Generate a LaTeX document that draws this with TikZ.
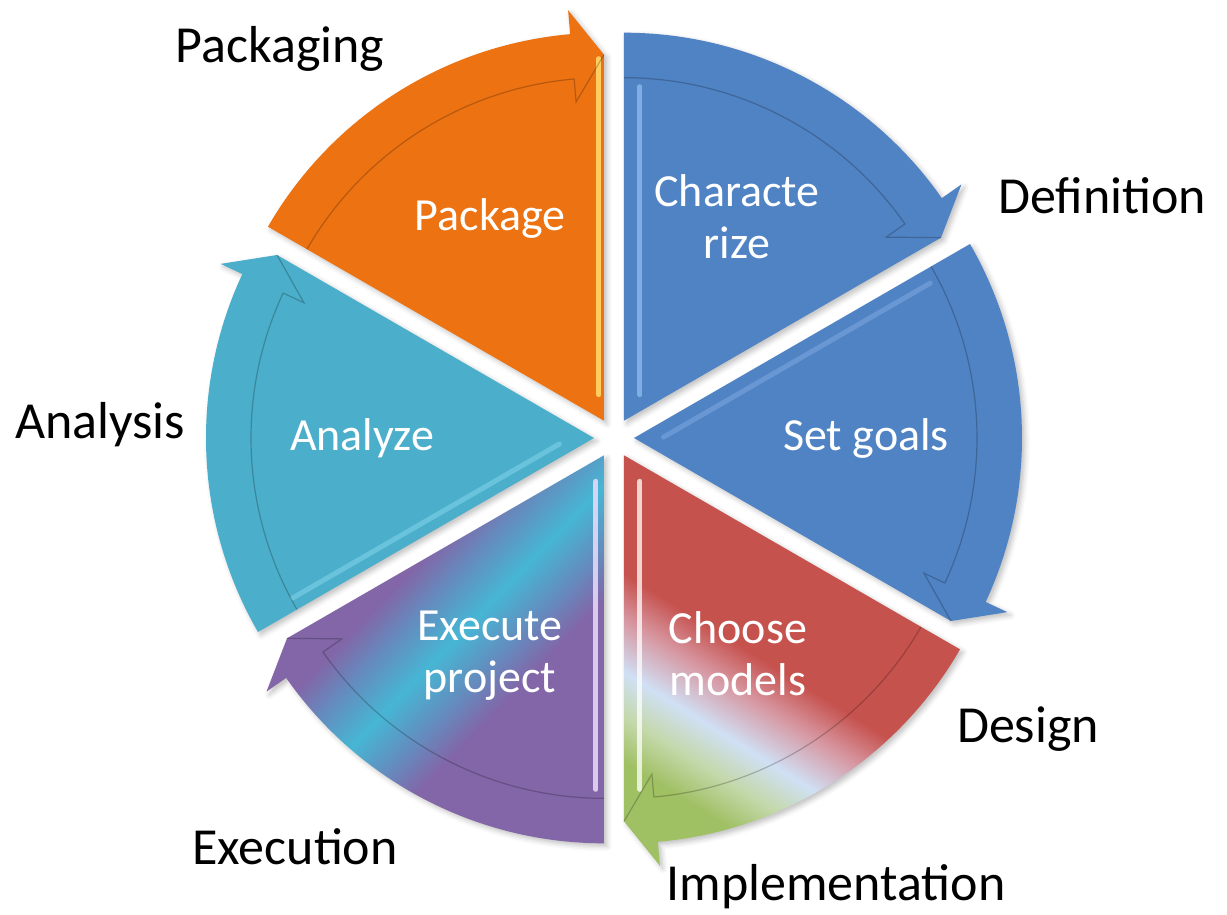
\documentclass[tikz,border=0pt]{standalone}
\usepackage{fontspec}
\setmainfont{Carlito}
\usetikzlibrary{shadows.blur,calc}

\definecolor{corange}{RGB}{236,114,18}
\definecolor{cblue}{RGB}{80,131,196}
\definecolor{ccyan}{RGB}{75,174,202}
\definecolor{cred}{RGB}{198,82,78}
\definecolor{cpink}{RGB}{215,150,160}
\definecolor{cpurple}{RGB}{130,102,168}
\definecolor{cgreen}{RGB}{160,192,100}
\definecolor{cgreenl}{RGB}{196,216,170}
\definecolor{clight}{RGB}{208,224,245}
\definecolor{cstripe}{RGB}{70,182,212}
\definecolor{cmid}{RGB}{100,140,190}

\pgfdeclarehorizontalshading{chooseshade}{100bp}{color(0bp)=(cgreen); color(27bp)=(cgreen); color(32bp)=(cgreenl); color(37bp)=(clight); color(43bp)=(cpink); color(48bp)=(cred); color(100bp)=(cred)}
\pgfdeclarehorizontalshading{execshade}{100bp}{color(0bp)=(cpurple); color(40bp)=(cpurple); color(45bp)=(cmid); color(51bp)=(cstripe); color(57bp)=(cmid); color(62bp)=(cpurple); color(100bp)=(cpurple)}

\tikzset{
  wshadow/.style={blur shadow={shadow xshift=3pt, shadow yshift=-3pt, shadow blur radius=5pt, shadow opacity=25}},
  crease/.style={line width=1.2pt, draw=black, draw opacity=0.22},
  inlabel/.style={text=white, font=\fontsize{46}{51.5}\selectfont, align=center, inner sep=0pt},
  outlabel/.style={text=black, font=\fontsize{52}{58}\selectfont, inner sep=0pt, anchor=base}
}

% #1 bisector, #2 fill options, #3 highlight edge angle, #4 highlight offset, #5 highlight colour options, #6 highlight outer radius
\newcommand{\cycwedge}[6]{%
 \begin{scope}[shift={(#1:20pt)}]
  \pgfmathsetmacro\ta{#1+30}
  \pgfmathsetmacro\tb{#1-25}
  \pgfmathsetmacro\tc{#1-30}
  \path[wshadow,#2] (0,0) -- (\ta:388pt) arc[start angle=\ta, end angle=\tb, radius=388pt] -- (\tb:412pt) -- (\tc:366pt) -- cycle;
  \draw[#5, line width=5pt, line cap=round] ($(#3:26pt)+#4$) -- ($(#3:#6)+#4$);
  \draw[crease] (\ta:343pt) arc[start angle=\ta, end angle=\tb, radius=343pt] -- (\tb:320pt) -- (\tc:366pt);
 \end{scope}}

\begin{document}
\begin{tikzpicture}[x=1pt,y=1pt]
\useasboundingbox (-614pt,-476pt) rectangle (613pt,438pt);

\cycwedge{120}{fill=corange}{90}{(180:5pt)}{draw={rgb,255:red,255;green,205;blue,95}}{362pt}
\cycwedge{60}{fill=cblue}{90}{(0:16pt)}{draw={rgb,255:red,140;green,185;blue,235}, draw opacity=0.8}{334pt}
\cycwedge{0}{fill=cblue}{30}{(-60:14pt)}{draw={rgb,255:red,115;green,160;blue,218}, draw opacity=0.7}{334pt}
\cycwedge{300}{shading=chooseshade, shading angle=58}{270}{(0:16pt)}{draw=white, draw opacity=0.75}{334pt}
\cycwedge{240}{shading=execshade, shading angle=-44}{270}{(180:8pt)}{draw={rgb,255:red,235;green,220;blue,250}, draw opacity=0.85}{334pt}
\cycwedge{180}{fill=ccyan}{210}{(150:14pt)}{draw={rgb,255:red,120;green,205;blue,228}, draw opacity=0.7}{334pt}

\node[inlabel, anchor=base] (tpack) at (-124pt,208pt) {Package};
\node[inlabel, anchor=base] (tchar) at (123pt,180pt) {Characte\\rize};
\node[inlabel, anchor=base] (tgoal) at (252pt,-12pt) {Set goals};
\node[inlabel, anchor=base] (tchoose) at (124pt,-257pt) {Choose\\models};
\node[inlabel, anchor=base] (texec) at (-124pt,-254pt) {Execute\\project};
\node[inlabel, anchor=base] (tanal) at (-252pt,-12pt) {Analyze};

\node[outlabel] (lpack) at (-334pt,376pt) {Packaging};
\node[outlabel] (ldef) at (488pt,225pt) {Definition};
\node[outlabel] (lanal) at (-514pt,0pt) {Analysis};
\node[outlabel] (ldes) at (414pt,-304pt) {Design};
\node[outlabel] (lexec) at (-319pt,-426pt) {Execution};
\node[outlabel] (limpl) at (222pt,-462pt) {Implementation};
\end{tikzpicture}
\end{document}
